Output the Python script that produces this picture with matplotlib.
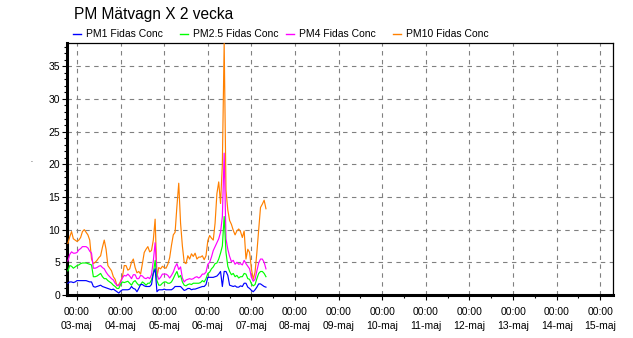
import matplotlib
matplotlib.use("Agg")
import matplotlib.pyplot as plt
from matplotlib.lines import Line2D
from matplotlib.ticker import MultipleLocator

plt.rcParams['font.family'] = ['Liberation Sans', 'DejaVu Sans']

#-------------------------------------data----------------------------------------------------------
# hours relative to 03-maj 00:00, one value per hour
hours = list(range(-5, 105))

pm1 = [1.8, 2.0, 2.0, 1.9, 2.0, 2.2, 2.2, 2.2, 2.2, 2.2,
       2.2, 2.1, 2.0, 2.0, 1.3, 1.2, 1.3, 1.4, 1.5, 1.3,
       1.2, 1.1, 1.0, 0.9, 0.8, 0.9, 0.7, 0.5, 0.3, 0.6,
       0.8, 0.8, 0.8, 0.8, 0.9, 1.3, 1.0, 0.9, 0.5, 1.0,
       1.6, 1.6, 1.4, 1.3, 1.3, 1.3, 1.6, 3.3, 4.0, 0.5,
       0.8, 0.8, 0.8, 0.9, 0.8, 0.8, 0.8, 0.8, 1.0, 1.3,
       1.3, 1.3, 1.3, 1.0, 0.7, 0.8, 1.0, 1.0, 0.8, 0.9,
       0.9, 1.0, 1.1, 1.2, 1.3, 1.3, 1.6, 2.7, 2.7, 2.7,
       2.7, 2.8, 2.9, 3.2, 3.6, 1.3, 3.6, 3.6, 3.0, 1.5,
       1.4, 1.3, 1.4, 1.2, 1.2, 1.4, 1.3, 1.8, 1.8, 1.2,
       1.0, 0.7, 0.5, 0.8, 1.2, 1.7, 1.7, 1.5, 1.3, 1.2]

pm25 = [3.7, 4.5, 4.4, 4.1, 4.3, 4.5, 4.6, 4.8, 4.9, 4.9,
        4.9, 4.8, 4.7, 4.6, 2.8, 2.8, 2.9, 3.1, 3.3, 2.8,
        2.5, 2.5, 2.2, 2.0, 1.8, 1.5, 1.3, 1.0, 1.0, 1.6,
        2.0, 1.9, 2.0, 2.1, 1.8, 1.5, 2.0, 2.2, 1.8, 1.5,
        1.6, 2.0, 1.8, 1.5, 1.8, 1.8, 2.3, 3.3, 5.3, 2.2,
        1.5, 1.5, 1.8, 2.0, 2.0, 1.8, 1.8, 2.0, 2.5, 3.1,
        3.6, 2.7, 3.0, 2.0, 1.5, 1.4, 1.6, 1.7, 1.6, 1.8,
        1.8, 1.8, 1.8, 1.9, 2.2, 2.0, 2.5, 3.3, 3.5, 4.0,
        4.3, 4.8, 4.9, 5.5, 6.4, 7.5, 12.0, 6.5, 4.4, 3.6,
        3.1, 3.3, 2.8, 3.0, 2.6, 2.8, 2.8, 3.3, 3.2, 2.5,
        2.4, 1.7, 1.4, 1.6, 2.5, 3.3, 3.6, 3.6, 3.3, 2.8]

pm4 = [5.2, 6.2, 6.6, 6.4, 6.4, 6.5, 6.9, 7.1, 7.4, 7.4,
       7.4, 7.2, 6.7, 6.4, 4.1, 4.1, 4.2, 4.4, 4.5, 4.2,
       4.0, 3.5, 3.1, 2.8, 2.5, 2.3, 1.8, 1.5, 1.4, 1.9,
       2.6, 3.0, 2.9, 3.2, 2.9, 2.5, 3.1, 3.1, 2.5, 2.5,
       3.0, 2.9, 2.6, 2.5, 2.7, 2.5, 3.1, 5.2, 8.0, 3.2,
       2.4, 2.7, 3.2, 3.2, 3.2, 3.0, 2.6, 3.0, 3.5, 4.3,
       4.8, 3.9, 4.3, 2.6, 2.0, 2.3, 2.4, 2.5, 2.4, 2.5,
       2.7, 2.8, 2.6, 2.8, 3.2, 3.2, 3.5, 4.7, 5.0, 5.8,
       6.8, 7.4, 8.0, 8.6, 9.6, 12.0, 21.7, 8.6, 7.0, 5.9,
       5.1, 5.3, 4.7, 5.0, 4.7, 4.8, 4.6, 5.3, 4.8, 4.4,
       4.0, 2.7, 2.1, 2.4, 3.7, 4.9, 5.5, 5.5, 5.0, 4.0]

pm10 = [7.9, 8.9, 9.7, 8.6, 8.4, 8.2, 8.4, 8.8, 9.7, 10.0,
        9.6, 9.2, 8.4, 5.5, 4.8, 5.0, 5.3, 5.7, 6.0, 7.3,
        8.4, 7.0, 4.5, 4.1, 3.7, 2.8, 2.4, 1.4, 1.6, 2.1,
        2.8, 4.5, 4.5, 3.8, 4.0, 5.0, 5.5, 4.2, 3.4, 3.6,
        3.2, 4.8, 6.5, 7.0, 7.4, 6.6, 6.8, 8.4, 11.6, 2.8,
        4.2, 4.0, 4.4, 4.2, 4.1, 4.7, 5.7, 7.6, 9.2, 9.6,
        13.6, 17.1, 11.0, 7.5, 5.0, 4.8, 6.0, 5.5, 6.3, 5.9,
        6.4, 5.5, 5.8, 5.8, 6.0, 5.4, 6.0, 8.3, 9.1, 8.7,
        8.4, 11.0, 15.5, 17.3, 14.0, 20.0, 38.5, 16.0, 13.0, 11.4,
        10.8, 9.9, 9.2, 9.8, 10.1, 9.7, 8.8, 9.8, 5.5, 7.0,
        6.5, 4.0, 2.4, 3.5, 6.5, 10.0, 13.4, 13.9, 14.5, 13.2]

series_names = ["PM1 Fidas Conc", "PM2.5 Fidas Conc", "PM4 Fidas Conc", "PM10 Fidas Conc"]
series_colors = ["#0000ff", "#00ff00", "#ff00ff", "#ff8000"]
day_labels = ["03-maj", "04-maj", "05-maj", "06-maj", "07-maj", "08-maj", "09-maj",
              "10-maj", "11-maj", "12-maj", "13-maj", "14-maj", "15-maj"]

#---------------------------------------------plot--------------------------------------------------
fig = plt.figure(figsize=(6.33, 3.38), dpi=100)
ax = fig.add_axes([67/633, 1 - 295/338, (613 - 67)/633, (295 - 42.7)/338])

lines = []
for i, (vals, name, col) in enumerate(zip([pm1, pm25, pm4, pm10], series_names, series_colors)):
    ln, = ax.plot(hours, vals, color=col, lw=0.85, zorder=10 - i, label=name)
    lines.append(ln)

ax.set_xlim(-5.5, 295)
ax.set_ylim(0, 38.6)

ax.set_xticks([24 * d for d in range(len(day_labels))])
ax.set_xticklabels(["00:00\n" + d for d in day_labels], linespacing=1.55)
ax.xaxis.set_minor_locator(MultipleLocator(12))
ax.yaxis.set_major_locator(MultipleLocator(5))
ax.yaxis.set_minor_locator(MultipleLocator(1))

ax.tick_params(axis='both', which='major', labelsize=7.5, color='black', width=0.8)
ax.tick_params(axis='x', which='major', length=3.5, pad=5)
ax.tick_params(axis='x', which='minor', length=2.5, width=0.8)
ax.tick_params(axis='y', which='major', length=3.5, pad=1.5)
ax.tick_params(axis='y', which='minor', length=2, width=0.8)

ax.grid(True, which='major', color='#808080', linestyle=(0, (4, 4)), lw=0.8)

for side in ['left', 'bottom']:
    ax.spines[side].set_linewidth(2.2)
for side in ['top', 'right']:
    ax.spines[side].set_linewidth(0.9)

fig.text(74/633, 1 - 15/338, "PM Mätvagn X 2 vecka", fontsize=11.2, va='center', ha='left')

# legend drawn by hand, evenly spaced entries
for i, ln in enumerate(lines):
    x0 = (73 + 106.7 * i) / 633
    y0 = 1 - 34/338
    fig.add_artist(Line2D([x0, x0 + 8/633], [y0, y0], color=ln.get_color(), lw=1.0,
                          transform=fig.transFigure))
    fig.text(x0 + 13/633, y0, ln.get_label(), fontsize=7.5, va='center', ha='left')

fig.text(31/633, 1 - 161/338, ".", fontsize=5, ha='center', va='center')

fig.savefig("out.png", dpi=100)
